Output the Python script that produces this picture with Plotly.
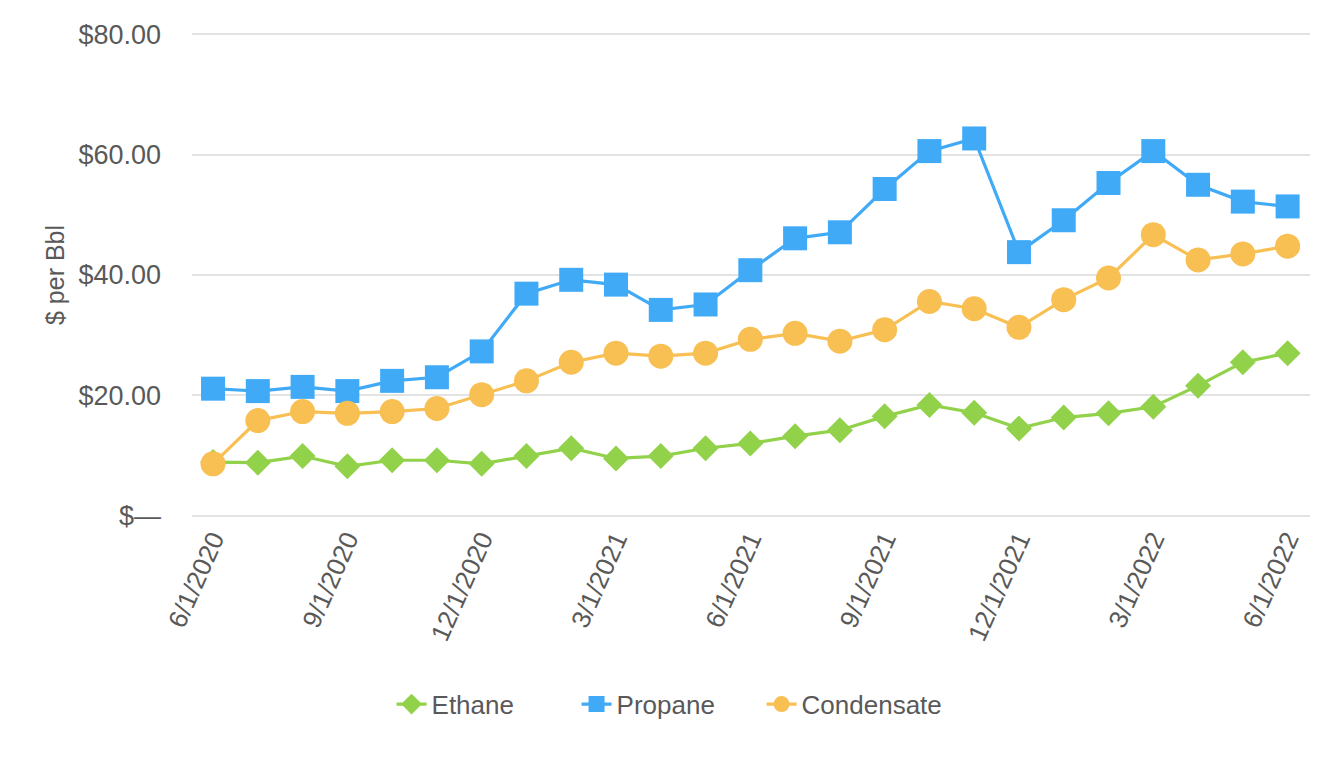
import plotly.graph_objects as go

dates = ["6/1/2020","7/1/2020","8/1/2020","9/1/2020","10/1/2020","11/1/2020","12/1/2020",
         "1/1/2021","2/1/2021","3/1/2021","4/1/2021","5/1/2021","6/1/2021","7/1/2021",
         "8/1/2021","9/1/2021","10/1/2021","11/1/2021","12/1/2021","1/1/2022","2/1/2022",
         "3/1/2022","4/1/2022","5/1/2022","6/1/2022"]
ethane = [8.9, 8.8, 9.9, 8.2, 9.2, 9.2, 8.6, 9.9, 11.2, 9.5, 9.9, 11.2, 12.0, 13.2,
          14.2, 16.5, 18.4, 17.1, 14.5, 16.3, 17.0, 18.1, 21.6, 25.5, 27.0]
propane = [21.1, 20.7, 21.4, 20.7, 22.4, 23.0, 27.3, 36.9, 39.2, 38.4, 34.2, 35.1, 40.8, 46.1,
           47.1, 54.3, 60.6, 62.7, 43.8, 49.1, 55.3, 60.6, 55.0, 52.2, 51.4]
condensate = [8.6, 15.8, 17.3, 17.0, 17.3, 17.8, 20.1, 22.4, 25.5, 27.0, 26.5, 27.0, 29.3, 30.3,
              29.0, 30.9, 35.6, 34.4, 31.3, 35.9, 39.5, 46.7, 42.5, 43.5, 44.8]
y_ticks = [0, 20, 40, 60, 80]
y_labels = ["$\u2014", "$20.00", "$40.00", "$60.00", "$80.00"]
x_ticks = dates[::3]

FONT = "Liberation Sans, Arial, sans-serif"
GRAY = "#595959"

fig = go.Figure()
fig.add_trace(go.Scatter(x=dates, y=ethane, name="Ethane", mode="lines+markers",
                         line=dict(color="#92D24A", width=3.2),
                         marker=dict(symbol="diamond", size=20, color="#92D24A")))
fig.add_trace(go.Scatter(x=dates, y=propane, name="Propane", mode="lines+markers",
                         line=dict(color="#40AAF7", width=3.2),
                         marker=dict(symbol="square", size=24, color="#40AAF7")))
fig.add_trace(go.Scatter(x=dates, y=condensate, name="Condensate", mode="lines+markers",
                         line=dict(color="#F8BF53", width=3.2),
                         marker=dict(symbol="circle", size=25, color="#F8BF53")))

fig.update_layout(
    width=1340, height=760,
    margin=dict(l=184, r=38, t=17, b=250),
    paper_bgcolor="white", plot_bgcolor="white",
    font=dict(family=FONT, color=GRAY, size=26),
    legend=dict(orientation="h", x=0.4267, xanchor="center",
                y=-0.383, yanchor="middle",
                font=dict(size=26, color=GRAY), entrywidth=140, entrywidthmode="pixels"),
    xaxis=dict(type="category", range=[-0.47, 24.5], tickvals=x_ticks, ticktext=x_ticks,
               tickangle=-66, showgrid=False, zeroline=False, showline=False,
               tickfont=dict(size=26, color=GRAY), ticks=""),
    yaxis=dict(range=[-0.4, 80.4], tickvals=y_ticks, ticktext=y_labels,
               showgrid=True, gridcolor="#E3E3E3", gridwidth=2, zeroline=False,
               tickfont=dict(size=27, color=GRAY), ticklabelstandoff=30,
               title=dict(text="$ per Bbl", font=dict(size=25, color=GRAY), standoff=6)),
)

fig.write_html("out.html")
